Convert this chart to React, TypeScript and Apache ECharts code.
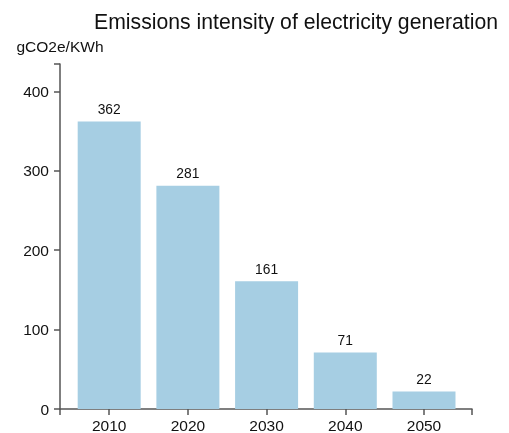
import React, { useEffect, useRef } from "react";
import * as echarts from "echarts";

const years = [2010, 2020, 2030, 2040, 2050];
const intensity = [362, 281, 161, 71, 22];
const yTicks = [0, 100, 200, 300, 400];
const titleText = "Emissions intensity of electricity generation";
const unitText = "gCO2e/KWh";

export default function App() {
  const ref = useRef<HTMLDivElement>(null);
  useEffect(() => {
    if (!ref.current) return;
    const chart = echarts.init(ref.current, undefined, { renderer: "svg" });
    const yMax = Math.max(...intensity) * 1.2;
    const xMin = years[0] - 6.25;
    const xMax = years[years.length - 1] + 6.1;
    const axisColor = "#555";
    const font = "Liberation Sans, Arial, sans-serif";
    chart.setOption({
      animation: false,
      title: {
        text: titleText,
        right: 6,
        top: 6,
        textStyle: { fontFamily: font, fontSize: 21.2, fontWeight: "normal", color: "#111" },
      },
      grid: { left: 60, width: 412, top: 64, height: 348.5, containLabel: false },
      xAxis: {
        type: "value",
        min: xMin,
        max: xMax,
        splitLine: { show: false },
        axisLine: { show: true, lineStyle: { color: axisColor, width: 1.5 } },
        axisTick: {
          show: true,
          length: 6,
          lineStyle: { color: axisColor, width: 1.5 },
          customValues: [xMin, ...years, xMax],
        },
        axisLabel: {
          customValues: years,
          fontFamily: font,
          fontSize: 15.5,
          color: "#111",
          margin: 8,
          formatter: (v: number) => String(Math.round(v)),
        },
      },
      yAxis: {
        type: "value",
        min: 0,
        max: yMax,
        name: unitText,
        nameLocation: "end",
        nameGap: 10,
        nameTextStyle: { fontFamily: font, fontSize: 15.5, color: "#111", align: "center" },
        splitLine: { show: false },
        axisLine: { show: true, lineStyle: { color: axisColor, width: 1.5 } },
        axisTick: {
          show: true,
          length: 6,
          lineStyle: { color: axisColor, width: 1.5 },
          customValues: [...yTicks, yMax],
        },
        axisLabel: {
          customValues: yTicks,
          fontFamily: font,
          fontSize: 15.5,
          color: "#111",
          margin: 11,
        },
      },
      series: [
        {
          type: "bar",
          data: years.map((y, i) => [y, intensity[i]]),
          barWidth: 63,
          itemStyle: { color: "#a6cee3" },
          label: {
            show: true,
            position: "top",
            distance: 5,
            fontFamily: font,
            fontSize: 13.8,
            color: "#111",
          },
        },
      ],
    });
    return () => chart.dispose();
  }, []);
  return <div ref={ref} style={{ position: "fixed", left: 0, top: 0, width: 509, height: 433 }} />;
}
